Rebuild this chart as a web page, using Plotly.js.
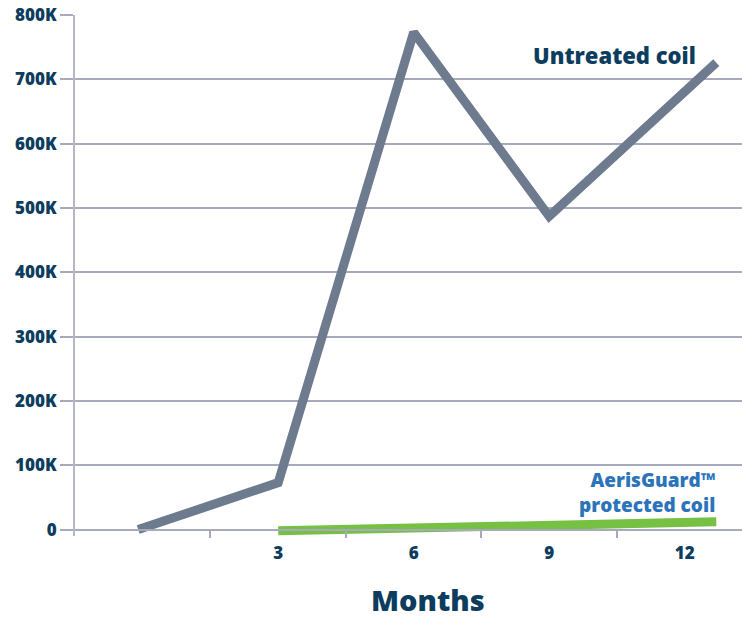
<!DOCTYPE html>
<html>
<head>
<meta charset="utf-8">
<script src="https://cdn.plot.ly/plotly-3.0.1.min.js"></script>
<style>html,body{margin:0;padding:0;background:#fff;}#chart{width:742px;height:619px;}</style>
</head>
<body>
<div id="chart"></div>
<script>
// Data
const untreatedMonths = [-0.1, 3, 6, 9, 12.7];
const untreatedValues = [0, 73000, 773000, 487000, 726000];
const protectedMonths = [3, 6, 9, 12.7];
const protectedValues = [-2000, 1500, 5000, 12000];
const xTickVals = [3, 6, 9, 12];
const xTickText = ['3', '6', '9', '12'];
const xMinorTicks = [1.5, 4.5, 7.5, 10.5];
const yTickVals = [0, 100000, 200000, 300000, 400000, 500000, 600000, 700000, 800000];
const yTickText = ['0', '100K', '200K', '300K', '400K', '500K', '600K', '700K', '800K'];

const navy = '#0d3d5e';
const grid = '#a7aabd';
const fontFam = '"Open Sans", "Noto Sans", sans-serif';

const traces = [
  {x: untreatedMonths, y: untreatedValues, mode: 'lines', line: {color: '#6e7a8e', width: 9}, hoverinfo: 'skip'},
  {x: protectedMonths, y: protectedValues, mode: 'lines', line: {color: '#76c043', width: 9}, hoverinfo: 'skip'}
];

const yMin = -10000, yMax = 800000;
const layout = {
  width: 742, height: 619,
  margin: {l: 75, r: 0, t: 15, b: 83},
  paper_bgcolor: '#fff', plot_bgcolor: '#fff',
  showlegend: false,
  font: {family: fontFam, color: navy},
  xaxis: {
    range: [-1.5, 13.27],
    anchor: 'free',
    position: (0 - yMin) / (yMax - yMin),
    showgrid: false, zeroline: false,
    showline: true, linecolor: grid, linewidth: 2,
    tickmode: 'array', tickvals: xTickVals, ticktext: xTickText,
    ticks: '', ticklabelstandoff: 8,
    tickfont: {size: 17, weight: 800, color: navy},
    minor: {tickmode: 'array', tickvals: xMinorTicks, ticks: 'outside', ticklen: 7, tickwidth: 2, tickcolor: grid, showgrid: false}
  },
  yaxis: {
    range: [yMin, yMax],
    showgrid: true, gridcolor: grid, gridwidth: 2,
    zeroline: false,
    showline: true, linecolor: '#b4b7c8', linewidth: 2,
    tickmode: 'array', tickvals: yTickVals, ticktext: yTickText,
    ticks: 'outside', ticklen: 13, tickwidth: 2, tickcolor: grid,
    tickfont: {size: 17, weight: 800, color: navy}
  },
  annotations: [
    {x: 12.29, y: 738000, xref: 'x', yref: 'y', xanchor: 'right', yanchor: 'middle', showarrow: false,
     text: 'Untreated coil', font: {size: 22, weight: 800, color: navy}},
    {x: 12.71, y: 58000, xref: 'x', yref: 'y', xanchor: 'right', yanchor: 'middle', align: 'right', showarrow: false,
     text: 'AerisGuard™<br>protected coil', font: {size: 19, weight: 800, color: '#2b74ba'}},
    {x: 0.529, y: -0.121, xref: 'paper', yref: 'paper', xanchor: 'center', yanchor: 'middle', showarrow: false,
     text: 'Months', font: {size: 29, weight: 800, color: navy}}
  ]
};

Plotly.newPlot('chart', traces, layout, {displayModeBar: false, staticPlot: true});
</script>
</body>
</html>
